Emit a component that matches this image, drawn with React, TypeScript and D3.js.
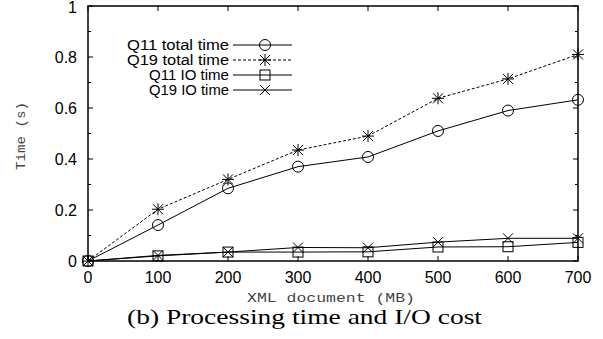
import React, { useEffect, useRef } from 'react'
import * as d3 from 'd3'

const sizes = [0, 100, 200, 300, 400, 500, 600, 700]
const q11Total = [0, 0.141, 0.285, 0.37, 0.408, 0.51, 0.59, 0.632]
const q19Total = [0, 0.203, 0.32, 0.435, 0.49, 0.638, 0.714, 0.81]
const q11Io = [0, 0.02, 0.035, 0.035, 0.036, 0.055, 0.056, 0.073]
const q19Io = [0, 0.022, 0.035, 0.053, 0.052, 0.074, 0.089, 0.089]
const yTicks = [0, 0.2, 0.4, 0.6, 0.8, 1]
const yMinor = [0.1, 0.3, 0.5, 0.7, 0.9]

const seriesList = [
  { name: 'Q11 total time', values: q11Total, marker: 'circle', dash: '' },
  { name: 'Q19 total time', values: q19Total, marker: 'star', dash: '3,2' },
  { name: 'Q11 IO time', values: q11Io, marker: 'square', dash: '' },
  { name: 'Q19 IO time', values: q19Io, marker: 'cross', dash: '' },
]

const sans = 'Liberation Sans, Arial, sans-serif'
const mono = 'Liberation Mono, Courier New, monospace'

const App = () => {
  const ref = useRef(null)

  useEffect(() => {
    const width = 603
    const height = 339
    const left = 88
    const right = 578
    const top = 6
    const bottom = 261

    const svg = d3.select(ref.current)
    svg.selectAll('*').remove()

    const x = d3.scaleLinear().domain([0, 700]).range([left, right])
    const y = d3.scaleLinear().domain([0, 1]).range([bottom, top])

    const drawMarker = (g, kind, cx, cy) => {
      if (kind === 'circle') {
        g.append('circle').attr('cx', cx).attr('cy', cy).attr('r', 5.5)
          .attr('fill', 'none').attr('stroke', '#000').attr('stroke-width', 1)
      } else if (kind === 'square') {
        g.append('rect').attr('x', cx - 5).attr('y', cy - 5).attr('width', 10).attr('height', 10)
          .attr('fill', 'none').attr('stroke', '#000').attr('stroke-width', 1)
      } else {
        const s = 5
        const p = d3.path()
        p.moveTo(cx - s, cy - s); p.lineTo(cx + s, cy + s)
        p.moveTo(cx - s, cy + s); p.lineTo(cx + s, cy - s)
        if (kind === 'star') {
          p.moveTo(cx, cy - s - 1); p.lineTo(cx, cy + s + 1)
          p.moveTo(cx - s - 1, cy); p.lineTo(cx + s + 1, cy)
        }
        g.append('path').attr('d', p.toString()).attr('stroke', '#000').attr('stroke-width', 1).attr('fill', 'none')
      }
    }

    // ticks, mirrored on top / right like gnuplot
    const ticks = svg.append('g').attr('stroke', '#000').attr('stroke-width', 1)
    sizes.forEach((v) => {
      ticks.append('line').attr('x1', x(v)).attr('x2', x(v)).attr('y1', bottom).attr('y2', bottom - 5)
      ticks.append('line').attr('x1', x(v)).attr('x2', x(v)).attr('y1', top).attr('y2', top + 5)
    })
    yTicks.forEach((v) => {
      ticks.append('line').attr('x1', left).attr('x2', left + 5).attr('y1', y(v)).attr('y2', y(v))
      ticks.append('line').attr('x1', right).attr('x2', right - 5).attr('y1', y(v)).attr('y2', y(v))
    })
    yMinor.forEach((v) => {
      ticks.append('line').attr('x1', left).attr('x2', left + 3).attr('y1', y(v)).attr('y2', y(v))
      ticks.append('line').attr('x1', right).attr('x2', right - 3).attr('y1', y(v)).attr('y2', y(v))
    })

    const labels = svg.append('g').attr('font-family', sans).attr('font-size', 16).attr('fill', '#000')
    sizes.forEach((v) => {
      labels.append('text').attr('x', x(v)).attr('y', 283).attr('text-anchor', 'middle').text(v)
    })
    yTicks.forEach((v) => {
      labels.append('text').attr('x', 77).attr('y', Math.max(y(v) + 6, 13)).attr('text-anchor', 'end').text(v)
    })

    // series
    const line = d3.line().x((d) => x(d[0])).y((d) => y(d[1]))
    seriesList.forEach((s) => {
      const pts = sizes.map((v, i) => [v, s.values[i]])
      svg.append('path').attr('d', line(pts)).attr('fill', 'none').attr('stroke', '#000')
        .attr('stroke-width', 1).attr('stroke-dasharray', s.dash || null)
      const g = svg.append('g')
      pts.forEach((p) => drawMarker(g, s.marker, x(p[0]), y(p[1])))
    })

    // legend
    const legend = svg.append('g')
    const legendWidths = [102, 102, 80, 80]
    seriesList.forEach((s, i) => {
      const ly = 45 + i * 15
      legend.append('text').attr('x', 229 - legendWidths[i]).attr('y', ly + 5)
        .attr('textLength', legendWidths[i]).attr('lengthAdjust', 'spacingAndGlyphs')
        .attr('font-family', sans).attr('font-size', 14).text(s.name)
      legend.append('line').attr('x1', 233).attr('x2', 292).attr('y1', ly).attr('y2', ly)
        .attr('stroke', '#000').attr('stroke-width', 1).attr('stroke-dasharray', s.dash || null)
      drawMarker(legend, s.marker, 265, ly)
    })

    // frame
    svg.append('rect').attr('x', left).attr('y', top).attr('width', right - left).attr('height', bottom - top)
      .attr('fill', 'none').attr('stroke', '#000').attr('stroke-width', 1.5)

    svg.append('text').attr('x', 247).attr('y', 302)
      .attr('textLength', 168).attr('lengthAdjust', 'spacingAndGlyphs')
      .attr('font-family', mono).attr('font-size', 13).attr('fill', '#444').text('XML document (MB)')
    svg.append('text').attr('transform', 'translate(25, 170) rotate(-90)')
      .attr('textLength', 68).attr('lengthAdjust', 'spacingAndGlyphs')
      .attr('font-family', mono).attr('font-size', 13).attr('fill', '#444').text('Time (s)')
    svg.append('text').attr('x', 127).attr('y', 324)
      .attr('textLength', 355).attr('lengthAdjust', 'spacingAndGlyphs')
      .attr('font-family', 'Liberation Serif, Times New Roman, serif').attr('font-size', 21)
      .text('(b) Processing time and I/O cost')

    svg.attr('width', width).attr('height', height)
  }, [])

  return (
    <svg ref={ref} width={603} height={339}
      style={{ position: 'absolute', left: 0, top: 0, background: '#fff' }} />
  )
}

export default App
